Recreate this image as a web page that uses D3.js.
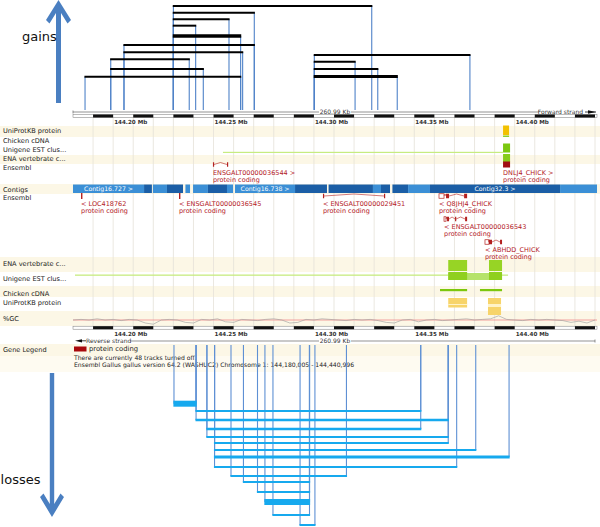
<!DOCTYPE html>
<html><head><meta charset="utf-8">
<script src="https://cdn.jsdelivr.net/npm/d3@7"></script>
<style>body{margin:0;background:#fff}svg{display:block}text{font-family:"DejaVu Sans",sans-serif}</style>
</head><body>
<script>
// ================= DATA =================
const region = [144.180005, 144.440996];           // Mb
const regionLength = "260.99 Kb";
const tickValues = [144.20, 144.25, 144.30, 144.35, 144.40];
const tickLabel = d => d.toFixed(2) + " Mb";

// copy-number gains: start/end (Mb), stacking row, number of samples
const gains = [
  {start:144.2300, end:144.3288, row:0.00, n:1},
  {start:144.2300, end:144.2703, row:0.96, n:1},
  {start:144.2300, end:144.2577, row:1.90, n:1},
  {start:144.2300, end:144.2411, row:2.81, n:1},
  {start:144.2300, end:144.2635, row:4.29, n:2},
  {start:144.2054, end:144.2703, row:5.57, n:1},
  {start:144.2054, end:144.2645, row:6.61, n:1},
  {start:144.1988, end:144.2379, row:7.61, n:1},
  {start:144.1988, end:144.2449, row:9.00, n:1},
  {start:144.1860, end:144.2635, row:10.10, n:1},
  {start:144.3002, end:144.3777, row:7.00, n:1},
  {start:144.3002, end:144.3205, row:7.96, n:1},
  {start:144.3002, end:144.3318, row:9.00, n:1},
  {start:144.3002, end:144.3415, row:10.07, n:1.6}
];
// copy-number losses
const losses = [
  {start:144.2303, end:144.2413, row:0.00, n:3},
  {start:144.2413, end:144.3532, row:0.84, n:1},
  {start:144.2413, end:144.3669, row:1.88, n:1.4},
  {start:144.2467, end:144.3532, row:2.92, n:1.4},
  {start:144.2467, end:144.3669, row:3.84, n:1},
  {start:144.2505, end:144.3669, row:4.54, n:1},
  {start:144.2505, end:144.3806, row:5.34, n:1},
  {start:144.2505, end:144.3972, row:6.15, n:1.6},
  {start:144.2505, end:144.3711, row:7.31, n:1},
  {start:144.2587, end:144.3162, row:8.35, n:1},
  {start:144.2649, end:144.2978, row:9.04, n:1},
  {start:144.2719, end:144.2978, row:10.19, n:1},
  {start:144.2756, end:144.2978, row:11.35, n:3},
  {start:144.2796, end:144.2978, row:12.85, n:1},
  {start:144.2931, end:144.3005, row:14.00, n:1}
];

const upperTrackNames = ["UniProtKB protein","Chicken cDNA","Unigene EST clus...","ENA vertebrate c...","Ensembl"];
const lowerTrackNames = ["Contigs","Ensembl","ENA vertebrate c...","Unigene EST clus...","Chicken cDNA","UniProtKB protein","%GC"];

// contigs: start, end, alternate shade index, name
const contigs = [
  [144.1800,144.2154,0,"Contig16.727 >"],[144.2154,144.2193,1],[144.2198,144.2268,0],[144.2268,144.2348,1],
  [144.2360,144.2383,0],[144.2398,144.2472,0],[144.2472,144.2567,1],[144.2567,144.2597,0],
  [144.2607,144.2906,0,"Contig16.738 >"],[144.2906,144.3065,1],[144.3073,144.3095,1],[144.3095,144.3294,1],
  [144.3294,144.3334,0],[144.3334,144.3379,1],[144.3391,144.3469,1],[144.3469,144.3578,0],
  [144.3578,144.4226,1,"Contig32.3 >"],[144.4226,144.4410,0]
];

const biotype = "protein coding";
const upperGenes = [
  {id:"ENSGALT00000036544", row:0, exons:[[144.2497,144.2502],[144.2567,144.2572]]},
  {id:"DNLJ4_CHICK", row:0, exons:[[144.3942,144.3977]]}
];
const lowerGenes = [
  {id:"LOC418762", row:0, exons:[[144.1840,144.1847]]},
  {id:"ENSGALT00000036545", row:0, exons:[[144.2328,144.2335]]},
  {id:"ENSGALT00000029451", row:0, exons:[[144.3045,144.3050],[144.3349,144.3354]]},
  {id:"Q8JHJ4_CHICK", row:0, exons:[[144.3623,144.3648],[144.3658,144.3673],[144.3748,144.3763]]},
  {id:"ENSGALT00000036543", row:1, exons:[[144.3648,144.3658],[144.3663,144.3673],[144.3703,144.3708],[144.3753,144.3763]]},
  {id:"ABHDD_CHICK", row:2, exons:[[144.3852,144.3872],[144.3872,144.3887],[144.3927,144.3937]]}
];

// feature tracks (Mb)
const uniprotUpper = [[144.3942,144.3972]];
const cdnaUpper = [[144.3942,144.3977]];
const unigeneUpperLine = [[144.2547,144.3942]];
const enaUpper = [[144.3942,144.3977]];
const enaLower = [[144.3669,144.3763],[144.3872,144.3937]];
const unigeneLowerLine = [[144.1810,144.3669],[144.3937,144.3967]];
const unigeneLowerBlocks = [[144.3669,144.3763],[144.3872,144.3937]];
const unigeneLowerSpan = [[144.3669,144.3937]];
const cdnaLower = [[144.3628,144.3763],[144.3827,144.3937]];
const uniprotLower = [[144.3669,144.3763,1],[144.3867,144.3932,2]];

// %GC every 4 kb from region start
const gcStepMb = 0.004;
const gcValues = [45,46,45,47,45,46,44,46,45,40,38,45,46,45,41,40,46,45,47,42,41,46,45,44,46,47,45,40,41,46,45,47,46,45,44,46,45,46,44,41,40,45,46,42,45,46,44,45,46,47,45,46,47,52,46,45,44,46,45,46,45,44,41,43,40,45];
const gcMean = 45;

const footerLines = ["There are currently 48 tracks turned off.",
  "Ensembl Gallus gallus version 64.2 (WASHUC2) Chromosome 1: 144,180,005 - 144,440,996"];

// ================= DRAW =================
const W = 600, H = 527;
const svg = d3.select("body").append("svg").attr("width", W).attr("height", H);
const x = d3.scaleLinear().domain(region).range([73, 597]);
const cream = "#fcf7e6";
const red = "#b3201f";

// background stripes
[[126,137],[155,164],[184,194],[257,272],[286,297],[311,326],[344,356]].forEach(([a,b]) =>
  svg.append("rect").attr("x",0).attr("y",a).attr("width",W).attr("height",b-a).attr("fill",cream));
svg.append("rect").attr("x",0).attr("y",356).attr("width",W).attr("height",16).attr("fill","#fefbf1");

// grid lines every 10 kb
const grid = d3.range(1, 27).map(k => 144.18 + k * 0.01);
svg.append("g").selectAll("line").data(grid).join("line")
  .attr("x1", d => x(d)).attr("x2", d => x(d)).attr("y1", 118).attr("y2", 326)
  .attr("stroke", "#e4e1d8").attr("stroke-width", 0.8);

// ruler
function ruler(y) {
  const g = svg.append("g");
  g.append("rect").attr("x", x(region[0])).attr("y", y).attr("width", x(region[1]) - x(region[0])).attr("height", 3)
    .attr("fill", "#fff").attr("stroke", "#777").attr("stroke-width", 0.5);
  const segs = d3.range(0, 13).map(k => [144.19 + 0.02 * k, 144.20 + 0.02 * k]);
  g.selectAll(".seg").data(segs).join("rect")
    .attr("x", d => x(d[0])).attr("y", y).attr("width", d => x(d[1]) - x(d[0])).attr("height", 3).attr("fill", "#111");
  return g;
}
function tickTexts(y) {
  svg.append("g").selectAll("text").data(tickValues).join("text")
    .attr("x", d => x(d) + 1).attr("y", y).attr("font-size", 5.6).attr("font-weight", "bold").attr("fill", "#333")
    .text(tickLabel);
}
// top scale line
function scaleLine(y, x0, x1) {
  const mid = (x(region[0]) + x(region[1])) / 2;
  svg.append("line").attr("x1", x0).attr("x2", mid - 16).attr("y1", y).attr("y2", y).attr("stroke", "#666").attr("stroke-width", 0.7);
  svg.append("line").attr("x1", mid + 16).attr("x2", x1).attr("y1", y).attr("y2", y).attr("stroke", "#666").attr("stroke-width", 0.7);
  svg.append("text").attr("x", mid).attr("y", y + 2).attr("text-anchor", "middle").attr("font-size", 6).attr("fill", "#333").text(regionLength);
}
scaleLine(112, x(region[0]), 539);
svg.append("line").attr("x1", x(region[0])).attr("x2", x(region[0])).attr("y1", 110.5).attr("y2", 113.5).attr("stroke", "#666").attr("stroke-width", 0.7);
svg.append("text").attr("x", 583).attr("y", 114).attr("text-anchor", "end").attr("font-size", 6).attr("fill", "#333").text("Forward strand");
svg.append("line").attr("x1", 585).attr("x2", 596).attr("y1", 112).attr("y2", 112).attr("stroke", "#111").attr("stroke-width", 0.8);
svg.append("path").attr("d", "M588,110.3L596,112L588,113.7Z").attr("fill", "#111");
ruler(114.5);
tickTexts(124);

// track labels
const upperY = [132.5, 142.5, 151.5, 161, 170];
const lowerY = [191.5, 199.5, 266, 280.5, 295.5, 304.5, 320.5];
svg.append("g").selectAll("text").data(upperTrackNames).join("text")
  .attr("x", 3).attr("y", (d, i) => upperY[i]).attr("font-size", 6.6).attr("fill", "#222").text(d => d);
svg.append("g").selectAll("text").data(lowerTrackNames).join("text")
  .attr("x", 3).attr("y", (d, i) => lowerY[i]).attr("font-size", 6.6).attr("fill", "#222").text(d => d);

// upper features
function rects(data, y, h, fill, op) {
  svg.append("g").selectAll("rect").data(data).join("rect")
    .attr("x", d => x(d[0])).attr("width", d => Math.max(1, x(d[1]) - x(d[0])))
    .attr("y", y).attr("height", h).attr("fill", fill).attr("opacity", op || 1);
}
rects(uniprotUpper, 125.5, 9.5, "#f2c100");
rects(uniprotUpper, 135.5, 1.5, "#8fce2a");
rects(cdnaUpper, 143.5, 9, "#7bc810");
rects(unigeneUpperLine, 151.8, 1.2, "#c7ec80");
rects(enaUpper, 154, 8, "#86cc1c");

// contigs
const cg = svg.append("g");
cg.selectAll("rect").data(contigs).join("rect")
  .attr("x", d => x(d[0])).attr("width", d => x(d[1]) - x(d[0])).attr("y", 184.5).attr("height", 8.5)
  .attr("fill", d => d[2] ? "#1b5ea6" : "#3b8fd6");
cg.selectAll("text").data(contigs.filter(d => d[3])).join("text")
  .attr("x", d => (x(d[0]) + x(d[1])) / 2).attr("y", 191).attr("text-anchor", "middle")
  .attr("font-size", 6.2).attr("fill", "#fff").text(d => d[3]);

// genes
function drawGenes(genes, glyphY0, labelY0, rowStep, forward) {
  const g = svg.append("g");
  genes.forEach(gene => {
    const gy = glyphY0 + gene.row * rowStep;
    const single = gene.exons.length === 1;
    const h = single ? 6 : 4.5;
    gene.exons.forEach((e, i) => {
      g.append("rect").attr("x", x(e[0])).attr("y", gy - h / 2).attr("width", Math.max(1.2, x(e[1]) - x(e[0])))
        .attr("height", h).attr("fill", (i === 0 && gene.exons.length > 2) ? "none" : (gene.id === "DNLJ4_CHICK" ? "#a10e12" : red))
        .attr("stroke", (i === 0 && gene.exons.length > 2) ? red : "none").attr("stroke-width", 0.7);
      if (i > 0) {
        const a = x(gene.exons[i - 1][1]), b = x(e[0]);
        g.append("path").attr("d", `M${a},${gy}L${(a + b) / 2},${gy - 2}L${b},${gy}`)
          .attr("fill", "none").attr("stroke", red).attr("stroke-width", 0.6);
      }
    });
    const lx = x(gene.exons[0][0]);
    const ly = labelY0 + gene.row * rowStep;
    g.append("text").attr("x", lx).attr("y", ly).attr("font-size", 6.5).attr("fill", red)
      .text(forward ? gene.id + " >" : "< " + gene.id);
    g.append("text").attr("x", lx).attr("y", ly + 7.4).attr("font-size", 6.5).attr("fill", red).text(biotype);
  });
}
drawGenes(upperGenes, 164.5, 175, 23, true);
drawGenes(lowerGenes, 196, 206, 23, false);

// lower features
rects(enaLower, 260, 11, "#97d425");
rects(unigeneLowerLine, 274.5, 1.3, "#c7ec80");
rects(unigeneLowerSpan, 273, 7, "#b6e36a");
rects(unigeneLowerBlocks, 272, 8, "#8fd01e");
rects(cdnaLower, 289, 2.2, "#7cc70c");
svg.append("g").selectAll("rect").data(uniprotLower).join("rect")
  .attr("x", d => x(d[0])).attr("width", d => x(d[1]) - x(d[0]))
  .attr("y", 298).attr("height", d => d[2] === 1 ? 9.5 : 17).attr("fill", "#f7d46a");
svg.append("g").selectAll("rect").data(uniprotLower).join("rect")
  .attr("x", d => x(d[0])).attr("width", d => x(d[1]) - x(d[0]))
  .attr("y", 304).attr("height", d => d[2] === 1 ? 1 : 3).attr("fill", "#fff3c8");

// %GC
const gcY = d3.scaleLinear().domain([35, 55]).range([326, 314]);
svg.append("line").attr("x1", x(region[0])).attr("x2", x(region[1])).attr("y1", gcY(gcMean)).attr("y2", gcY(gcMean))
  .attr("stroke", "#f08a8a").attr("stroke-width", 0.8);
svg.append("path").datum(gcValues)
  .attr("d", d3.line().x((d, i) => x(Math.min(region[1], region[0] + i * gcStepMb))).y(d => gcY(d)))
  .attr("fill", "none").attr("stroke", "#9a9a9a").attr("stroke-width", 0.6);

// bottom ruler
ruler(326.2);
tickTexts(335.8);
svg.append("path").attr("d", "M75,340.8L82,339.2L82,342.4Z").attr("fill", "#111");
svg.append("line").attr("x1", 80).attr("x2", 86).attr("y1", 340.8).attr("y2", 340.8).attr("stroke", "#111").attr("stroke-width", 0.8);
svg.append("text").attr("x", 86).attr("y", 343).attr("font-size", 6).attr("fill", "#333").text("Reverse strand");
scaleLine(341, 130, x(region[1]) - 2);
svg.append("line").attr("x1", x(region[1]) - 2).attr("x2", x(region[1]) - 2).attr("y1", 339.5).attr("y2", 342.5).attr("stroke", "#666").attr("stroke-width", 0.7);

// legend / footer
svg.append("text").attr("x", 3).attr("y", 351.5).attr("font-size", 6.6).attr("fill", "#222").text("Gene Legend");
svg.append("rect").attr("x", 74).attr("y", 346.5).attr("width", 12.5).attr("height", 5).attr("fill", "#a8080c");
svg.append("text").attr("x", 89).attr("y", 351.2).attr("font-size", 6.8).attr("fill", "#222").text(biotype);
svg.append("g").selectAll("text").data(footerLines).join("text")
  .attr("x", 74).attr("y", (d, i) => 360.3 + i * 7).attr("font-size", 6.1).attr("fill", "#222").text(d => d);

// ---- gains (above) ----
const yG = d3.scaleLinear().domain([0, 10]).range([6, 76]);
const wS = d3.scaleLinear().domain([1, 2, 3]).range([2, 3.5, 6]);
const gGain = svg.append("g");
const gainEnds = gains.flatMap(d => [{p: d.start, row: d.row}, {p: d.end, row: d.row}]);
gGain.selectAll("line.v").data(gainEnds).join("line").attr("class", "v")
  .attr("x1", d => x(d.p)).attr("x2", d => x(d.p)).attr("y1", d => yG(d.row)).attr("y2", 110)
  .attr("stroke", "#4f82c8").attr("stroke-width", 1.1);
gGain.selectAll("line.h").data(gains).join("line").attr("class", "h")
  .attr("x1", d => x(d.start) - 0.6).attr("x2", d => x(d.end) + 0.6)
  .attr("y1", d => yG(d.row)).attr("y2", d => yG(d.row))
  .attr("stroke", "#000").attr("stroke-width", d => wS(d.n));

// ---- losses (below) ----
const yL = d3.scaleLinear().domain([0, 14]).range([403.7, 525]);
const gLoss = svg.append("g");
const lossEnds = losses.flatMap(d => [{p: d.start, row: d.row}, {p: d.end, row: d.row}]);
gLoss.selectAll("line.v").data(lossEnds).join("line").attr("class", "v")
  .attr("x1", d => x(d.p)).attr("x2", d => x(d.p)).attr("y1", 345).attr("y2", d => yL(d.row))
  .attr("stroke", "#5e90d4").attr("stroke-width", 1.1);
gLoss.selectAll("line.h").data(losses).join("line").attr("class", "h")
  .attr("x1", d => x(d.start) - 0.6).attr("x2", d => x(d.end) + 0.6)
  .attr("y1", d => yL(d.row)).attr("y2", d => yL(d.row))
  .attr("stroke", "#16a9ee").attr("stroke-width", d => wS(d.n));

// arrows and labels
const arrowBlue = "#4a7fc1";
svg.append("path").attr("d", "M58.5,0L71,20L67.5,23.5L61,13L61,103L56,103L56,13L49.5,23.5L46,20Z").attr("fill", arrowBlue);
svg.append("path").attr("d", "M52,517L64,497L60.5,493.5L54.2,504L54.2,373L49.8,373L49.8,504L43.5,493.5L40,497Z").attr("fill", arrowBlue);
svg.append("text").attr("x", 22).attr("y", 40.5).attr("font-family", "Liberation Sans, Arial, sans-serif").attr("font-size", 13).attr("fill", "#111").text("gains");
svg.append("text").attr("x", 40.5).attr("y", 484).attr("text-anchor", "end").attr("font-family", "Liberation Sans, Arial, sans-serif").attr("font-size", 13).attr("fill", "#111").text("losses");
</script>
</body></html>
